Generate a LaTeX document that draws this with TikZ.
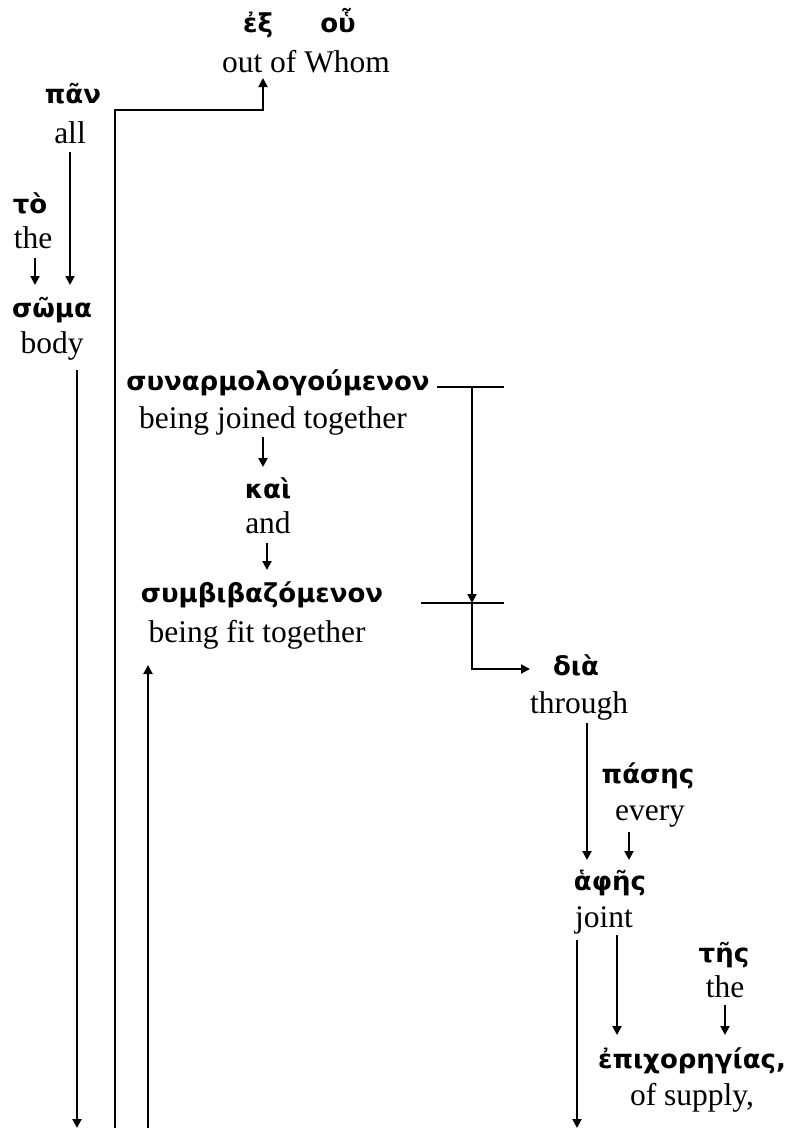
\documentclass[tikz,border=0pt]{standalone}
\usepackage{fontspec}
\setmainfont{Liberation Serif}
\newfontfamily\grk{DejaVu Sans}
\usetikzlibrary{arrows.meta,calc}
\begin{document}
\begin{tikzpicture}[x=1pt,y=-1pt,
 gk/.style={font=\grk\bfseries\fontsize{26}{30}\selectfont, anchor=base, inner sep=0pt},
 en/.style={font=\fontsize{31.5}{36}\selectfont, anchor=base, inner sep=0pt},
 ln/.style={line width=2pt},
 arr/.style={ln,-{Triangle[width=9pt,length=9pt]}}]
\path[use as bounding box, fill=white] (0,0) rectangle (797,1128);
% nodes
\node[gk] (ex) at (258,32) {ἐξ};
\node[gk] (hou) at (338,32) {οὗ};
\node[en] (whom) at (306,72) {out of Whom};
\node[gk] (pan) at (73,103) {πᾶν};
\node[en] (all) at (70,143) {all};
\node[gk] (to) at (30,213) {τὸ};
\node[en] (the1) at (33,248) {the};
\node[gk] (soma) at (52,317) {σῶμα};
\node[en] (body) at (52,353) {body};
\node[gk] (syn) at (278,390) {συναρμολογούμενον};
\node[en] (joined) at (273,428) {being joined together};
\node[gk] (kai) at (268,498) {καὶ};
\node[en] (and) at (268,533) {and};
\node[gk] (symb) at (262,602) {συμβιβαζόμενον};
\node[en] (fit) at (257,642) {being fit together};
\node[gk] (dia) at (576,675) {διὰ};
\node[en] (through) at (579,713) {through};
\node[gk] (pases) at (648,783) {πάσης};
\node[en] (every) at (650,820) {every};
\node[gk] (aphes) at (610,890) {ἁφῆς};
\node[en] (joint) at (604,927) {joint};
\node[gk] (tes) at (724,962) {τῆς};
\node[en] (the2) at (725,997) {the};
\node[gk] (epi) at (692,1068) {ἐπιχορηγίας,};
\node[en] (supply) at (692,1105) {of supply,};
% free ends
\coordinate (b1) at (115,1128);
\coordinate (b2) at (77,1128);
\coordinate (b3) at (148,1128);
\coordinate (b4) at (577,1128);
% connectors
\draw[arr] (b1) |- ($(whom.base)+(-43,38)$) -- ($(whom.base)+(-43,6)$);
\draw[arr] ($(all.base)+(0,9)$) -- ($(soma.base)+(18,-32)$);
\draw[arr] ($(the1.base)+(2,10)$) -- ($(soma.base)+(-17,-32)$);
\draw[arr] ($(body.base)+(25,17)$) -- (b2);
\draw[arr] (b3) -- ($(fit.base)+(-109,23)$);
\draw[ln] ($(syn.base)+(159,-3)$) -- ($(syn.base)+(226,-3)$);
\draw[arr] ($(syn.base)+(194,-3)$) -- ($(symb.base)+(210,1)$);
\draw[ln] ($(symb.base)+(159,1)$) -- ($(symb.base)+(242,1)$);
\draw[arr] ($(symb.base)+(210,1)$) |- ($(dia.base)+(-46,-6)$);
\draw[arr] ($(joined.base)+(-10,9)$) -- ($(kai.base)+(-5,-31)$);
\draw[arr] ($(and.base)+(-1,10)$) -- ($(symb.base)+(5,-32)$);
\draw[arr] ($(through.base)+(8,10)$) -- ($(aphes.base)+(-23,-30)$);
\draw[arr] ($(every.base)+(-21,12)$) -- ($(aphes.base)+(19,-30)$);
\draw[arr] ($(joint.base)+(-27,13)$) -- (b4);
\draw[arr] ($(joint.base)+(13,8)$) -- ($(epi.base)+(-75,-33)$);
\draw[arr] ($(the2.base)+(0,8)$) -- ($(epi.base)+(33,-33)$);
\end{tikzpicture}
\end{document}
